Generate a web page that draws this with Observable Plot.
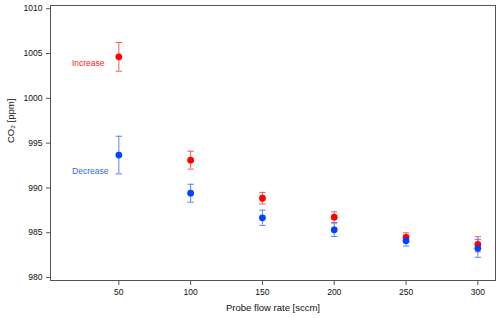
<!DOCTYPE html>
<html>
<head>
<meta charset="utf-8">
<script src="https://cdn.jsdelivr.net/npm/d3@7"></script>
<script src="https://cdn.jsdelivr.net/npm/@observablehq/plot@0.6"></script>
<style>
  html, body { margin: 0; padding: 0; background: #fff; }
  svg { font-family: "Liberation Sans", Arial, sans-serif; }
</style>
</head>
<body>
<div id="chart"></div>
<script>
const flowRates = [50, 100, 150, 200, 250, 300];
const increaseMean = [1004.63, 993.1, 988.85, 986.74, 984.49, 983.71];
const increaseErr  = [1.6, 1.0, 0.65, 0.6, 0.5, 0.85];
const decreaseMean = [993.67, 989.41, 986.67, 985.33, 984.11, 983.26];
const decreaseErr  = [2.1, 1.0, 0.85, 0.75, 0.6, 1.0];
const xTicks = [50, 100, 150, 200, 250, 300];
const yTicks = [980, 985, 990, 995, 1000, 1005, 1010];
const seriesLabels = [
  {name: "Increase", x: 40, y: 1003.86},
  {name: "Decrease", x: 42.8, y: 991.86}
];

const colors = {
  Increase: {dot: "#ff0000", bar: "#ff5a5a", label: "#ff2020"},
  Decrease: {dot: "#0044ff", bar: "#5a82ff", label: "#3366ff"}
};

const rows = [];
flowRates.forEach((f, i) => {
  rows.push({series: "Increase", x: f, y: increaseMean[i], lo: increaseMean[i] - increaseErr[i], hi: increaseMean[i] + increaseErr[i]});
});
flowRates.forEach((f, i) => {
  rows.push({series: "Decrease", x: f, y: decreaseMean[i], lo: decreaseMean[i] - decreaseErr[i], hi: decreaseMean[i] + decreaseErr[i]});
});

const capSymbol = {
  draw(ctx, size) {
    const w = 3.2;
    ctx.moveTo(-w, 0);
    ctx.lineTo(w, 0);
  }
};

const marks = [];
for (const s of ["Increase", "Decrease"]) {
  const d = rows.filter(r => r.series === s);
  marks.push(Plot.ruleX(d, {x: "x", y1: "lo", y2: "hi", stroke: colors[s].bar, strokeWidth: 1}));
  marks.push(Plot.dot(d, {x: "x", y: "lo", symbol: capSymbol, stroke: colors[s].bar, strokeWidth: 1, r: 3}));
  marks.push(Plot.dot(d, {x: "x", y: "hi", symbol: capSymbol, stroke: colors[s].bar, strokeWidth: 1, r: 3}));
}
marks.push(Plot.dot(rows.filter(r => r.series === "Increase"), {x: "x", y: "y", r: 3.4, fill: colors.Increase.dot, stroke: "none"}));
marks.push(Plot.dot(rows.filter(r => r.series === "Decrease"), {x: "x", y: "y", r: 3.4, fill: colors.Decrease.dot, stroke: "none"}));

marks.push(Plot.text(seriesLabels, {x: "x", y: "y", text: "name", textAnchor: "end",
  fill: d => colors[d.name].label, fontSize: 8.5}));

marks.push(Plot.frame({stroke: "#555", strokeWidth: 1}));
marks.push(Plot.axisX({ticks: xTicks, tickSize: 5, tickPadding: 3, stroke: "#555", fill: "#111", fontSize: 8.5, label: null, tickFormat: d => String(d)}));
marks.push(Plot.axisY({ticks: yTicks, tickSize: 4, tickPadding: 4, stroke: "#555", fill: "#111", fontSize: 8.5, label: null, tickFormat: d => String(d)}));
marks.push(Plot.text(["Probe flow rate [sccm]"], {frameAnchor: "bottom", dy: 30, text: d => d, fontSize: 9.5, fill: "#111"}));
marks.push(Plot.text(["CO₂ [ppm]"], {frameAnchor: "left", dx: -40, rotate: -90, text: d => d, fontSize: 9.5, fill: "#111"}));

const chart = Plot.plot({
  width: 500,
  height: 318,
  marginLeft: 50,
  marginTop: 5,
  marginRight: 5,
  marginBottom: 38,
  x: {domain: [2.4, 312.3]},
  y: {domain: [979.67, 1010.36]},
  style: {fontFamily: "'Liberation Sans', Arial, sans-serif", fontSize: "8.5px", color: "#111", background: "#fff"},
  marks
});
document.getElementById("chart").appendChild(chart);
</script>
</body>
</html>
